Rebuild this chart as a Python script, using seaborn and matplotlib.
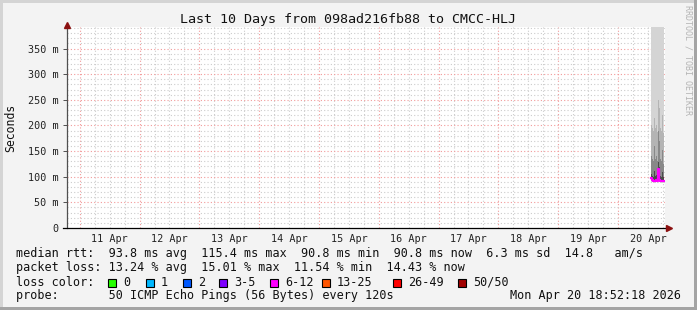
import numpy as np
import pandas as pd
import matplotlib
matplotlib.use("Agg")
import matplotlib.pyplot as plt
import matplotlib.dates as mdates
from matplotlib.patches import Rectangle
import seaborn as sns

# ---------------- data ----------------
title = "Last 10 Days from 098ad216fb88 to CMCC-HLJ"
end_time = "2026-04-20 18:52:18"
start_time = "2026-04-10 18:52:18"
day_labels = ["11 Apr", "12 Apr", "13 Apr", "14 Apr", "15 Apr",
              "16 Apr", "17 Apr", "18 Apr", "19 Apr", "20 Apr"]
label_noons = ["2026-04-11 12:00", "2026-04-12 12:00", "2026-04-13 12:00",
               "2026-04-14 12:00", "2026-04-15 12:00", "2026-04-16 12:00",
               "2026-04-17 12:00", "2026-04-18 12:00", "2026-04-19 12:00",
               "2026-04-20 12:00"]

sample_times = ["2026-04-20 13:16", "2026-04-20 13:40", "2026-04-20 14:04",
                "2026-04-20 14:28", "2026-04-20 14:52", "2026-04-20 15:16",
                "2026-04-20 15:40", "2026-04-20 16:04", "2026-04-20 16:28",
                "2026-04-20 16:52", "2026-04-20 17:16", "2026-04-20 17:40",
                "2026-04-20 18:04"]
median_ms = [97.0, 93.5, 92.1, 91.3, 92.4, 93.0, 92.2, 115.4, 93.1, 92.0, 91.2, 91.8, 90.8]
ping_min = [89.5, 88.9, 88.4, 88.2, 88.6, 88.9, 88.5, 90.2, 88.8, 88.4, 88.3, 88.4, 88.1]
ping_q10 = [91.0, 90.0, 89.5, 89.0, 89.6, 90.0, 89.5, 93.0, 90.0, 89.5, 89.3, 89.5, 89.0]
ping_q25 = [94.0, 92.0, 90.8, 90.2, 90.9, 91.5, 90.8, 102.0, 91.5, 90.8, 90.2, 90.6, 89.9]
ping_q40 = [96.0, 93.0, 91.5, 90.8, 91.8, 92.4, 91.6, 110.0, 92.5, 91.5, 90.8, 91.3, 90.4]
ping_q60 = [106, 102, 100, 112, 101, 103, 100, 128, 118, 101, 100, 110, 99]
ping_q75 = [140, 135, 130, 160, 135, 140, 130, 190, 170, 135, 130, 152, 125]
ping_q90 = [200, 195, 190, 215, 195, 200, 188, 250, 235, 195, 190, 220, 185]
ping_max = [430, 425, 440, 450, 420, 430, 415, 460, 445, 425, 420, 435, 410]
lost_pings = [7, 6, 7, 6, 7, 6, 7, 7, 6, 7, 6, 7, 7]

loss_labels = ["0", "1", "2", "3-5", "6-12", "13-25", "26-49", "50/50"]
loss_colors = ["#26ff00", "#00b8ff", "#0059ff", "#7e00ff", "#ff00ff",
               "#ff5500", "#ff0000", "#a10000"]
loss_upper = [0, 1, 2, 5, 12, 25, 49, 50]

y_ticks = [0, 50, 100, 150, 200, 250, 300, 350]

line_rtt = ("median rtt:  93.8 ms avg  115.4 ms max  90.8 ms min  "
            "90.8 ms now  6.3 ms sd  14.8   am/s")
line_loss = "packet loss: 13.24 % avg  15.01 % max  11.54 % min  14.43 % now"
line_probe = "probe:       50 ICMP Echo Pings (56 Bytes) every 120s"
stamp = "Mon Apr 20 18:52:18 2026"

# ---------------- figure ----------------
W, H = 697, 310
MONO = ["DejaVu Sans Mono"]
plt.rcParams["font.family"] = MONO

fig = plt.figure(figsize=(W / 100, H / 100), dpi=100, facecolor="#f3f3f3")

# frame border
fig.add_artist(Rectangle((0, 0), 3 / W, 1, transform=fig.transFigure, color="#d4d4d4", lw=0))
fig.add_artist(Rectangle((0, 1 - 3 / H), 1, 3 / H, transform=fig.transFigure, color="#d4d4d4", lw=0))
fig.add_artist(Rectangle((1 - 3 / W, 0), 3 / W, 1, transform=fig.transFigure, color="#a4a4a4", lw=0))
fig.add_artist(Rectangle((0, 0), 1, 3 / H, transform=fig.transFigure, color="#a4a4a4", lw=0))

x0, x1, ytop, ybot = 67, 665, 27, 228
ax = fig.add_axes([x0 / W, 1 - ybot / H, (x1 - x0) / W, (ybot - ytop) / H])
ax.set_facecolor("white")

t_start = mdates.date2num(pd.Timestamp(start_time))
t_end = mdates.date2num(pd.Timestamp(end_time))
ax.set_xlim(t_start, t_end)
ax.set_ylim(0, 392)

# grid (drawn from axis scale)
day0 = np.ceil(t_start)
for d in np.arange(day0 - 1, t_end + 1, 0.25):
    if d <= t_start or d >= t_end:
        continue
    is_mid = abs(d - round(d)) < 1e-6
    ax.axvline(d, color="#f29a9a" if is_mid else "#cccccc", lw=0.8,
               ls=(0, (1, 2)), zorder=1)
for v in range(10, 392, 10):
    ax.axhline(v, color="#f29a9a" if v % 50 == 0 else "#cccccc", lw=0.8,
               ls=(0, (1, 2)), zorder=1)

# smoke
xs = mdates.date2num(pd.to_datetime(sample_times))
bw = 24 / 1440
xs_edge = np.append(xs, xs[-1] + bw)
bands = [(ping_min, ping_max, "#d4d4d4"),
         (ping_q10, ping_q90, "#b4b4b4"),
         (ping_q25, ping_q75, "#888888"),
         (ping_q40, ping_q60, "#4a4a4a")]
for lo, hi, col in bands:
    lo = np.append(lo, lo[-1])
    hi = np.append(hi, hi[-1])
    ax.fill_between(xs_edge, lo, hi, step="post", color=col, lw=0, zorder=2)

# median line coloured by loss
def loss_color(n):
    for up, c in zip(loss_upper, loss_colors):
        if n <= up:
            return c
    return loss_colors[-1]

med_df = pd.DataFrame({"t": xs_edge, "median": np.append(median_ms, median_ms[-1])})
line_col = loss_color(max(lost_pings))
sns.lineplot(data=med_df, x="t", y="median", ax=ax, color=line_col,
             lw=1.6, drawstyle="steps-post", zorder=5)

# axes styling
for s in ["top", "right"]:
    ax.spines[s].set_visible(False)
ax.spines["left"].set_color("#505050")
ax.spines["bottom"].set_color("#000000")
ax.spines["left"].set_linewidth(0.9)
ax.spines["bottom"].set_linewidth(0.9)
ax.spines["bottom"].set_bounds(t_start - 4 / 598 * 10, t_end + 3 / 598 * 10)

ax.set_yticks(y_ticks)
ax.set_yticklabels(["0" if v == 0 else f"{v} m" for v in y_ticks])
ax.tick_params(axis="y", length=3, width=0.7, color="#505050", pad=2.9,
               labelsize=7.3, labelcolor="#222222")
ax.set_xticks(mdates.date2num(pd.to_datetime(label_noons)))
ax.set_xticklabels(day_labels)
ax.tick_params(axis="x", length=0, pad=4.5, labelsize=7.3, labelcolor="#222222")
ax.set_xlabel("")
ax.set_ylabel("")

# arrows
ax.plot([0], [1 + 2 / 201], marker="^", ms=5, color="#8b1010",
        transform=ax.transAxes, clip_on=False, zorder=6)
ax.plot([1 + 4 / 598], [0], marker=">", ms=5, color="#8b1010",
        transform=ax.transAxes, clip_on=False, zorder=6)

# texts
fig.text(348.5 / W, 1 - 19 / H, title, ha="center", va="center",
         fontsize=9.6, color="#111111")
fig.text(11 / W, 1 - 128 / H, "Seconds", rotation=90, ha="center",
         va="center", fontsize=8.3, color="#111111")
fig.text(688 / W, 1 - 5 / H, "RRDTOOL / TOBI OETIKER", rotation=270,
         ha="center", va="top", fontsize=6, color="#b4b4b4")

fs = 8.5
fig.text(16 / W, 1 - 254 / H, line_rtt, ha="left", va="center", fontsize=fs, color="#111111")
fig.text(16 / W, 1 - 268 / H, line_loss, ha="left", va="center", fontsize=fs, color="#111111")
fig.text(16 / W, 1 - 282 / H, "loss color:", ha="left", va="center", fontsize=fs, color="#111111")
fig.text(16 / W, 1 - 296 / H, line_probe, ha="left", va="center", fontsize=fs, color="#111111")
fig.text(681 / W, 1 - 296 / H, stamp, ha="right", va="center", fontsize=fs, color="#111111")

box_x = [108, 146, 183, 219, 270, 322, 393, 458]
for bx, lab, col in zip(box_x, loss_labels, loss_colors):
    fig.add_artist(Rectangle((bx / W, 1 - 286.5 / H), 8 / W, 8 / H,
                             transform=fig.transFigure, facecolor=col,
                             edgecolor="black", lw=0.8))
    fig.text((bx + 15) / W, 1 - 282 / H, lab, ha="left", va="center",
             fontsize=fs, color="#111111")

fig.savefig("out.png", dpi=100, facecolor=fig.get_facecolor())
